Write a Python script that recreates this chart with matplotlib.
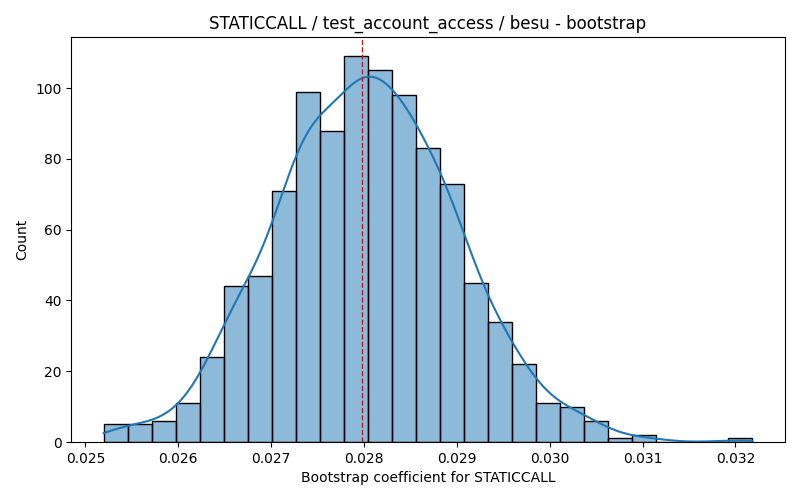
import numpy as np
import matplotlib
matplotlib.use("Agg")
import matplotlib.pyplot as plt

# bootstrap histogram, 1000 resamples
counts = [5, 5, 6, 11, 24, 44, 47, 71, 99, 88, 109, 105, 98, 83,
          73, 45, 34, 22, 11, 10, 6, 1, 2, 0, 0, 0, 1]
bin_lo = 0.0251966
bin_hi = 0.032183
ref_value = 0.02798

title = "STATICCALL / test_account_access / besu - bootstrap"
xlabel = "Bootstrap coefficient for STATICCALL"

counts = np.array(counts)
edges = np.linspace(bin_lo, bin_hi, len(counts) + 1)
widths = np.diff(edges)
centers = edges[:-1] + widths / 2

# gaussian kde (scott) on the binned samples, clipped to data range
samples = np.repeat(centers, counts)
n = len(samples)
bw = samples.std(ddof=1) * n ** (-1 / 5)
grid = np.linspace(bin_lo, bin_hi, 200)
dens = np.exp(-0.5 * ((grid[:, None] - samples[None, :]) / bw) ** 2).sum(axis=1)
dens /= n * bw * np.sqrt(2 * np.pi)
kde_counts = dens * n * widths[0]

fig, ax = plt.subplots(figsize=(8, 5), dpi=100)
fig.subplots_adjust(left=0.089, right=0.981, top=0.926, bottom=0.116)

ax.bar(edges[:-1], counts, width=widths, align="edge",
       facecolor=(0.1216, 0.4667, 0.7059, 0.5), edgecolor="black", linewidth=1)
ax.plot(grid, kde_counts, color="#1f77b4", linewidth=1.5)
ax.axvline(ref_value, color="red", linestyle="--", linewidth=1)

ax.set_title(title)
ax.set_xlabel(xlabel)
ax.set_ylabel("Count")

fig.savefig("out.png")
